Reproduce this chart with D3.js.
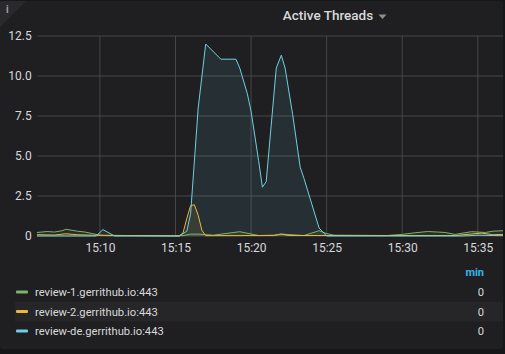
<!DOCTYPE html>
<html lang="en">
<head>
<meta charset="UTF-8">
<script src="https://d3js.org/d3.v7.min.js"></script>
<style>
body { margin: 0; background: #161719; }
svg { display: block; font-family: Roboto, "Noto Sans", sans-serif; }
</style>
</head>
<body>
<div id="chart"></div>
<script>
// series names and colours
const seriesNames = ["review-1.gerrithub.io:443", "review-2.gerrithub.io:443", "review-de.gerrithub.io:443"];
const seriesColors = ["#7eb26d", "#eab839", "#6ed0e0"];
const legendMin = [0, 0, 0];

// review-1 (green)
const r1Times = ["15:05:50", "15:06:30", "15:07:00", "15:07:30", "15:07:45", "15:08:30", "15:09:00", "15:09:30", "15:10:00", "15:10:30",
  "15:15:30", "15:16:00", "15:16:30", "15:17:30", "15:19:15", "15:20:30", "15:21:30", "15:22:00", "15:23:30", "15:24:30",
  "15:25:00", "15:25:30", "15:29:00", "15:30:00", "15:30:50", "15:31:40", "15:32:20", "15:32:50", "15:33:30", "15:34:35",
  "15:35:30", "15:36:00", "15:36:40"];
const r1Values = [0.22, 0.28, 0.25, 0.33, 0.42, 0.3, 0.25, 0.15, 0.05, 0.02,
  0.02, 0.12, 0.12, 0.05, 0.27, 0.03, 0.05, 0.12, 0.03, 0.33,
  0.15, 0.05, 0.03, 0.1, 0.2, 0.28, 0.25, 0.22, 0.1, 0.27,
  0.22, 0.3, 0.33];

// review-2 (yellow)
const r2Times = ["15:05:50", "15:07:00", "15:07:45", "15:08:30", "15:09:30", "15:15:15", "15:15:30", "15:15:45", "15:16:00", "15:16:15",
  "15:16:30", "15:16:45", "15:17:00", "15:21:30", "15:22:00", "15:22:30", "15:33:30", "15:34:30", "15:35:15", "15:36:00", "15:36:40"];
const r2Values = [0.08, 0.06, 0.14, 0.08, 0.05, 0, 0.2, 1.1, 1.9, 1.95,
  1.3, 0.35, 0.02, 0.03, 0.12, 0.03, 0.03, 0.12, 0.18, 0.08, 0.1];

// review-de (cyan)
const rdTimes = ["15:05:50", "15:09:45", "15:10:12", "15:10:58", "15:15:15", "15:15:45", "15:16:00", "15:16:30", "15:17:00", "15:18:00",
  "15:19:00", "15:19:15", "15:19:45", "15:20:00", "15:20:30", "15:20:45", "15:21:00", "15:21:40", "15:22:00", "15:22:15",
  "15:22:45", "15:23:15", "15:23:30", "15:24:30", "15:25:00", "15:34:00", "15:35:00", "15:36:40"];
const rdValues = [0, 0, 0.4, 0, 0, 0.3, 1.4, 8.0, 12.0, 11.05,
  11.05, 10.5, 8.9, 7.8, 4.7, 3.05, 3.4, 10.5, 11.3, 10.5,
  7.6, 4.3, 3.6, 0.5, 0, 0, 0.05, 0.02];

const yTicks = [0, 2.5, 5.0, 7.5, 10.0, 12.5];
const xTickLabels = ["15:10", "15:15", "15:20", "15:25", "15:30", "15:35"];
const xStart = "15:05:53", xEnd = "15:36:40";

const W = 505, H = 354;
const parse = d3.timeParse("%H:%M:%S");
const svg = d3.select("#chart").append("svg").attr("width", W).attr("height", H);

// panel
svg.append("rect").attr("x", 0).attr("y", 1).attr("width", 503).attr("height", 348)
  .attr("rx", 3).attr("fill", "#1f1f21");
svg.append("path").attr("d", "M0,1 L26,1 L0,27 Z").attr("fill", "#2a2a2d");
svg.append("text").attr("x", 6).attr("y", 13).attr("fill", "#9fa0a3")
  .attr("font-size", 10).attr("font-weight", "bold").text("i");

// title
svg.append("text").attr("x", 328).attr("y", 20).attr("text-anchor", "middle")
  .attr("fill", "#d8d9da").attr("font-size", 13.5).attr("font-weight", 500).text("Active Threads");
svg.append("path").attr("d", "M378.5,14.5 L386.5,14.5 L382.5,19 Z").attr("fill", "#8e8e8e");

const x = d3.scaleTime().domain([parse(xStart), parse(xEnd)]).range([37.7, 503]);
const y = d3.scaleLinear().domain([0, 12.5]).range([236, 36]);

// grid
const grid = svg.append("g");
grid.selectAll(".hg").data(yTicks).join("line")
  .attr("x1", 37.7).attr("x2", 503).attr("y1", d => y(d)).attr("y2", d => y(d))
  .attr("stroke", "#464649").attr("stroke-width", 1);
grid.selectAll(".vg").data(xTickLabels).join("line")
  .attr("x1", d => x(parse(d + ":00"))).attr("x2", d => x(parse(d + ":00")))
  .attr("y1", y(12.5)).attr("y2", y(0))
  .attr("stroke", "#464649").attr("stroke-width", 1);

// axes
const yAxis = svg.append("g").attr("transform", "translate(37.7,0)")
  .call(d3.axisLeft(y).tickValues(yTicks).tickSize(0).tickPadding(6)
    .tickFormat(d => d === 0 ? "0" : d3.format(".1f")(d)));
const xAxis = svg.append("g").attr("transform", "translate(0,236)")
  .call(d3.axisBottom(x).tickValues(xTickLabels.map(d => parse(d + ":00"))).tickSize(0).tickPadding(7)
    .tickFormat(d3.timeFormat("%H:%M")));
[yAxis, xAxis].forEach(a => {
  a.select(".domain").remove();
  a.selectAll("text").attr("fill", "#d8d9da").attr("font-size", 12).attr("font-family", "Roboto, sans-serif");
});

// series
const series = [
  { times: r1Times, values: r1Values },
  { times: r2Times, values: r2Values },
  { times: rdTimes, values: rdValues }
];
const area = d3.area().x(d => x(d[0])).y0(y(0)).y1(d => y(d[1]));
const line = d3.line().x(d => x(d[0])).y(d => y(d[1]));
const plot = svg.append("g");
series.forEach((s, i) => {
  const pts = s.times.map((t, j) => [parse(t), s.values[j]]);
  plot.append("path").datum(pts).attr("d", area).attr("fill", seriesColors[i]).attr("fill-opacity", 0.1);
});
series.forEach((s, i) => {
  const pts = s.times.map((t, j) => [parse(t), s.values[j]]);
  plot.append("path").datum(pts).attr("d", line).attr("fill", "none")
    .attr("stroke", seriesColors[i]).attr("stroke-width", 1);
});

// legend
svg.append("text").attr("x", 484).attr("y", 276).attr("text-anchor", "end")
  .attr("fill", "#33b5e5").attr("font-size", 11).attr("font-weight", "bold").text("min");
svg.append("rect").attr("x", 15).attr("y", 302).attr("width", 488).attr("height", 19.5).attr("fill", "#262628");
const leg = svg.append("g");
seriesNames.forEach((n, i) => {
  const cy = 292 + i * 19.5;
  leg.append("rect").attr("x", 16).attr("y", cy - 1.5).attr("width", 12).attr("height", 3)
    .attr("rx", 1).attr("fill", seriesColors[i]);
  leg.append("text").attr("x", 35).attr("y", cy + 4).attr("fill", "#d8d9da").attr("font-size", 11.2).text(n);
  leg.append("text").attr("x", 484).attr("y", cy + 4).attr("text-anchor", "end")
    .attr("fill", "#d8d9da").attr("font-size", 11.2).text(legendMin[i]);
});
</script>
</body>
</html>
